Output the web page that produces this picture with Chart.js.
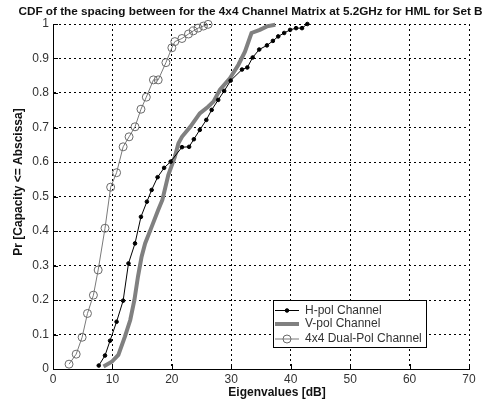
<!DOCTYPE html>
<html>
<head>
<meta charset="utf-8">
<script src="https://cdn.jsdelivr.net/npm/chart.js@4/dist/chart.umd.min.js"></script>
<style>
  html, body { margin: 0; padding: 0; background: #ffffff; }
  #wrap { width: 488px; height: 405px; position: relative; }
</style>
</head>
<body>
<div id="wrap"><canvas id="cdf" width="488" height="405"></canvas></div>
<script>
// Chart text
const chartTitle = 'CDF of the spacing between for the 4x4 Channel Matrix at 5.2GHz for HML for Set B';
const xTitle = 'Eigenvalues [dB]';
const yTitle = 'Pr [Capacity <= Abscissa]';
const seriesNames = ['H-pol Channel', 'V-pol Channel', '4x4 Dual-Pol Channel'];

// Axis ranges and tick steps
const xRange = [0, 70];
const xStep = 10;
const yRange = [0, 1];
const yStep = 0.1;

// H-pol channel: eigenvalue spacing [dB] and cumulative probability
const hpolX = [7.7, 8.75, 9.6, 10.7, 11.8, 12.7, 13.8, 14.8, 15.8, 16.6, 17.6, 18.7, 19.8,
  21.7, 22.9, 23.7, 24.7, 25.8, 26.7, 27.8, 28.8, 29.9, 31.8, 32.7, 33.6, 34.7, 36.0,
  37.0, 37.9, 38.9, 39.9, 40.9, 41.9, 42.8];
const hpolY = [0.01, 0.039, 0.082, 0.137, 0.198, 0.306, 0.364, 0.441, 0.485, 0.519, 0.556, 0.583, 0.601,
  0.643, 0.644, 0.666, 0.693, 0.722, 0.751, 0.780, 0.806, 0.836, 0.868, 0.874, 0.903, 0.926, 0.938,
  0.951, 0.964, 0.974, 0.983, 0.988, 0.988, 1.0];

// V-pol channel
const vpolX = [8.5, 9.9, 11.0, 12.1, 13.0, 13.7, 14.3, 14.9, 15.5, 16.6, 17.7, 18.4, 19.4, 20.5,
  21.1, 21.7, 23.1, 24.7, 26.1, 27.0, 28.1, 29.8, 31.2, 32.3, 33.4, 34.8, 36.0, 37.4];
const vpolY = [0.007, 0.021, 0.041, 0.094, 0.142, 0.2, 0.268, 0.325, 0.364, 0.412, 0.461, 0.49, 0.562, 0.615,
  0.654, 0.673, 0.702, 0.741, 0.760, 0.775, 0.81, 0.843, 0.882, 0.92, 0.974, 0.983, 0.993, 0.998];

// 4x4 dual-polarised channel
const dualX = [2.7, 3.9, 4.9, 5.8, 6.8, 7.6, 8.75, 9.7, 10.7, 11.8, 12.8, 13.8, 14.8, 15.7, 16.9,
  17.7, 19.0, 20.0, 20.5, 21.7, 22.8, 23.6, 24.4, 25.3, 26.1];
const dualY = [0.014, 0.043, 0.092, 0.161, 0.214, 0.287, 0.408, 0.527, 0.569, 0.644, 0.673, 0.702, 0.753, 0.788, 0.838,
  0.838, 0.888, 0.931, 0.949, 0.958, 0.971, 0.980, 0.988, 0.994, 0.999];

const pairs = (xs, ys) => xs.map((x, i) => ({ x: x, y: ys[i] }));

const FONT = '"Liberation Sans", Arial, sans-serif';

// Title and axis captions
const captions = {
  id: 'captions',
  afterDraw(chart) {
    const ctx = chart.ctx;
    ctx.save();
    ctx.fillStyle = '#111';
    ctx.textAlign = 'center';
    ctx.textBaseline = 'middle';
    ctx.font = 'bold 11.75px ' + FONT;
    ctx.fillText(chartTitle, 250.5, 12);
    ctx.font = 'bold 12px ' + FONT;
    ctx.fillText(xTitle, 277, 392.5);
    ctx.translate(19, 182);
    ctx.rotate(-Math.PI / 2);
    ctx.fillText(yTitle, 0, 0);
    ctx.restore();
  }
};

// Short inward tick marks on the left and bottom axes
const innerTicks = {
  id: 'innerTicks',
  afterDatasetsDraw(chart) {
    const { ctx, chartArea: a, scales } = chart;
    ctx.save();
    ctx.strokeStyle = '#000';
    ctx.lineWidth = 1;
    ctx.beginPath();
    scales.x.ticks.forEach(t => {
      const px = Math.round(scales.x.getPixelForValue(t.value)) + 0.5;
      ctx.moveTo(px, a.bottom); ctx.lineTo(px, a.bottom - 5);
    });
    scales.y.ticks.forEach(t => {
      const py = Math.round(scales.y.getPixelForValue(t.value)) + 0.5;
      ctx.moveTo(a.left, py); ctx.lineTo(a.left + 5, py);
    });
    ctx.stroke();
    ctx.restore();
  }
};

// Boxed legend in the lower right of the plot area
const boxLegend = {
  id: 'boxLegend',
  afterDraw(chart) {
    const ctx = chart.ctx;
    const box = { x: 273.5, y: 300.5, w: 153, h: 47 };
    const rows = [310.5, 324, 339];
    ctx.save();
    ctx.fillStyle = '#fff';
    ctx.fillRect(box.x, box.y, box.w, box.h);
    ctx.strokeStyle = '#000';
    ctx.lineWidth = 1;
    ctx.strokeRect(box.x, box.y, box.w, box.h);
    chart.data.datasets.forEach((ds, i) => {
      const y = rows[i];
      ctx.strokeStyle = ds.borderColor;
      ctx.lineWidth = ds.borderWidth;
      ctx.beginPath();
      ctx.moveTo(275, y); ctx.lineTo(299, y);
      ctx.stroke();
      if (ds.pointRadius > 0) {
        ctx.beginPath();
        ctx.arc(287, y, ds.pointRadius, 0, Math.PI * 2);
        ctx.lineWidth = ds.pointBorderWidth;
        ctx.strokeStyle = ds.pointBorderColor;
        ctx.fillStyle = ds.pointBackgroundColor;
        ctx.fill();
        ctx.stroke();
      }
      ctx.fillStyle = '#333';
      ctx.font = '12px ' + FONT;
      ctx.textAlign = 'left';
      ctx.textBaseline = 'middle';
      ctx.fillText(ds.label, 305, y);
    });
    ctx.restore();
  }
};

const tickText = v => String(Number(Number(v).toFixed(1)));

new Chart(document.getElementById('cdf'), {
  type: 'scatter',
  data: {
    datasets: [
      {
        label: seriesNames[0],
        data: pairs(hpolX, hpolY),
        showLine: true,
        borderColor: '#000',
        borderWidth: 1,
        pointRadius: 1.8,
        pointBackgroundColor: '#000',
        pointBorderColor: '#000',
        pointBorderWidth: 1,
        clip: false
      },
      {
        label: seriesNames[1],
        data: pairs(vpolX, vpolY),
        showLine: true,
        borderColor: '#808080',
        borderWidth: 4,
        pointRadius: 0,
        pointBackgroundColor: '#808080',
        pointBorderColor: '#808080',
        pointBorderWidth: 0,
        clip: false
      },
      {
        label: seriesNames[2],
        data: pairs(dualX, dualY),
        showLine: true,
        borderColor: '#7a7a7a',
        borderWidth: 1,
        pointRadius: 4,
        pointStyle: 'circle',
        pointBackgroundColor: 'rgba(0,0,0,0)',
        pointBorderColor: '#6a6a6a',
        pointBorderWidth: 1,
        clip: false
      }
    ]
  },
  options: {
    responsive: false,
    animation: false,
    events: [],
    layout: { padding: { top: 24, right: 19, bottom: 0, left: 0 } },
    plugins: {
      legend: { display: false },
      title: { display: false },
      tooltip: { enabled: false }
    },
    scales: {
      x: {
        type: 'linear',
        min: xRange[0],
        max: xRange[1],
        afterFit(scale) { scale.height = 36; },
        ticks: { stepSize: xStep, color: '#333', padding: 3, font: { family: FONT, size: 12 }, callback: tickText },
        grid: { color: '#000', lineWidth: 1, drawTicks: false },
        border: { display: true, color: '#000', width: 1, dash: [2, 3] }
      },
      y: {
        type: 'linear',
        min: yRange[0],
        max: yRange[1],
        afterFit(scale) { scale.width = 53; },
        ticks: { stepSize: yStep, color: '#333', padding: 4, font: { family: FONT, size: 12 }, callback: tickText },
        grid: { color: '#000', lineWidth: 1, drawTicks: false },
        border: { display: true, color: '#000', width: 1, dash: [2, 3] }
      }
    }
  },
  plugins: [innerTicks, boxLegend, captions]
});
</script>
</body>
</html>
